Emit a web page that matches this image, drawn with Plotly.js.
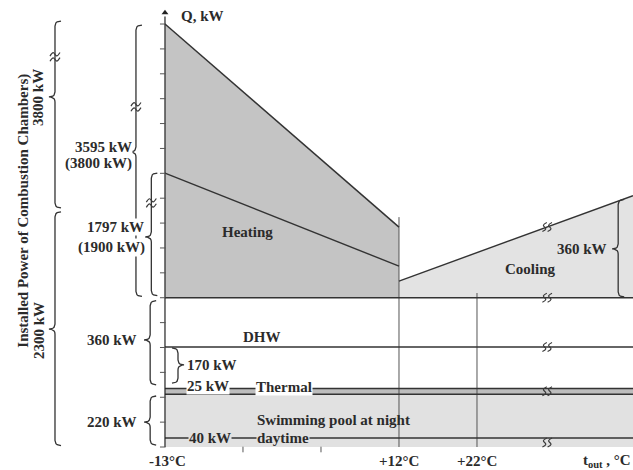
<!DOCTYPE html>
<html><head><meta charset="utf-8">
<script src="https://cdn.plot.ly/plotly-3.0.1.min.js"></script>
<style>html,body{margin:0;padding:0;background:#fff}#chart{width:633px;height:470px}</style>
</head><body><div id="chart"></div>
<script>
// Schematic diagram units: x = outdoor temperature axis (1 unit = 1 x tick), y = schematic load height (1 unit = 1 y tick)
const tempLabels = ['-13°C', '+12°C', '+22°C'];
const tempPos = [0, 3, 4];
const xTickPos = [1, 2];
const yTickPos = [0,1,2,3,4,5,6,7,8,9,10,11,12,13,14,15,16,17];
const heatX = [0, 3];
const heatTopY = [17, 8.84];
const heatLowY = [11.01, 7.27];
const coolX = [3, 6];
const coolY = [6.67, 10.1];
const baseY = 6.0;
const dhwY = 4.02;
const thermalY = [2.12, 2.35];
const daytimeY = 0.36;
const xEnd = 6;
const vLineX = [3, 4];
const vLineTop = [9.24, 6.19];

const braceLabels = ['3800 kW', '2300 kW', '3595 kW', '1797 kW', '360 kW', '220 kW', '170 kW', '360 kW cooling'];
const braceX   = [-1.41, -1.41, -0.372, -0.175, -0.19, -0.19, 0.167, 5.81];
const braceTop = [17.12, 9.45, 16.96, 11.01, 5.88, 2.05, 3.98, 9.95];
const braceBot = [9.61, 0.06, 6.05, 6.08, 2.50, 0.08, 2.57, 6.03];
const braceTip = [14.07, 4.74, 11.86, 8.44, 4.30, 1.0, 3.3, 7.96];
const braceDir = [-1, -1, -1, -1, -1, -1, 1, -1];

const breakX = [4.9, 4.9, 4.9, 4.9, 4.9, -1.41, -0.372, -0.175];
const breakY = [8.84, 6.0, 4.02, 2.24, 0.18, 15.68, 13.67, 9.81];
const breakVertical = [false, false, false, false, false, true, true, true];

const LINE = '#333333';
const TXT = '#2b2b2b';
const FONT = 'Liberation Serif, Times New Roman, serif';
const PX_X = 1 / 78, PX_Y = 1 / 24.88;   // one pixel in data units
const HW = 6 * PX_X;      // brace hook width
const R = 5 * PX_Y;       // brace curve radius

function quad(p0, c, p1, n, xs, ys) {
  for (let i = 1; i <= n; i++) {
    const t = i / n;
    xs.push((1-t)*(1-t)*p0[0] + 2*(1-t)*t*c[0] + t*t*p1[0]);
    ys.push((1-t)*(1-t)*p0[1] + 2*(1-t)*t*c[1] + t*t*p1[1]);
  }
}
function braceTrace(i) {
  const x = braceX[i], t = braceTop[i], b = braceBot[i], m = braceTip[i], s = braceDir[i];
  const hook = x - s * HW, tip = x + s * HW;
  const xs = [hook], ys = [t];
  quad([hook, t], [x, t], [x, t - R], 5, xs, ys);
  xs.push(x); ys.push(m + R);
  quad([x, m + R], [x, m], [tip, m], 5, xs, ys);
  quad([tip, m], [x, m], [x, m - R], 5, xs, ys);
  xs.push(x); ys.push(b + R);
  quad([x, b + R], [x, b], [hook, b], 5, xs, ys);
  return {x: xs, y: ys, mode: 'lines', line: {color: LINE, width: 1.3}, hoverinfo: 'skip', name: braceLabels[i]};
}

const traces = [];
// fills
traces.push({x: [heatX[0], heatX[0], heatX[1], heatX[1]], y: [baseY, heatTopY[0], heatTopY[1], baseY],
  fill: 'toself', fillcolor: '#c4c4c4', mode: 'lines', line: {width: 0}, hoverinfo: 'skip'});
traces.push({x: [coolX[0], coolX[0], coolX[1], coolX[1]], y: [baseY, coolY[0], coolY[1], baseY],
  fill: 'toself', fillcolor: '#e3e3e3', mode: 'lines', line: {width: 0}, hoverinfo: 'skip'});
traces.push({x: [0, 0, xEnd, xEnd], y: [0, thermalY[0], thermalY[0], 0],
  fill: 'toself', fillcolor: '#e1e1e1', mode: 'lines', line: {width: 0}, hoverinfo: 'skip'});
traces.push({x: [0, 0, xEnd, xEnd], y: [thermalY[0], thermalY[1], thermalY[1], thermalY[0]],
  fill: 'toself', fillcolor: '#bdbdbd', mode: 'lines', line: {width: 0}, hoverinfo: 'skip'});
// vertical temperature lines
for (let i = 0; i < vLineX.length; i++) {
  traces.push({x: [vLineX[i], vLineX[i]], y: [0, vLineTop[i]], mode: 'lines', line: {color: '#555', width: 1}, hoverinfo: 'skip'});
}
// load lines
function hline(y, w) { traces.push({x: [0, xEnd], y: [y, y], mode: 'lines', line: {color: LINE, width: w}, hoverinfo: 'skip'}); }
hline(baseY, 1.4); hline(dhwY, 1.3); hline(thermalY[0], 1.4); hline(thermalY[1], 1.4); hline(daytimeY, 1.6);
traces.push({x: heatX, y: heatTopY, mode: 'lines', line: {color: LINE, width: 1.5}, hoverinfo: 'skip'});
traces.push({x: heatX, y: heatLowY, mode: 'lines', line: {color: LINE, width: 1.4}, hoverinfo: 'skip'});
traces.push({x: coolX, y: coolY, mode: 'lines', line: {color: LINE, width: 1.4}, hoverinfo: 'skip'});
// y axis with arrow head
traces.push({x: [0, 0], y: [0, 17.3], mode: 'lines', line: {color: '#222', width: 1.2}, hoverinfo: 'skip'});
traces.push({x: [0], y: [17.45], mode: 'markers', marker: {symbol: 'triangle-up', size: 6, color: '#222'}, hoverinfo: 'skip'});
traces.push({x: yTickPos.map(() => -2.2 * PX_X), y: yTickPos, mode: 'markers',
  marker: {symbol: 'line-ew', size: 4, line: {color: '#555', width: 1}}, hoverinfo: 'skip'});
traces.push({x: xTickPos, y: xTickPos.map(() => -2.5 * PX_Y), mode: 'markers',
  marker: {symbol: 'line-ns', size: 4, line: {color: '#555', width: 1}}, hoverinfo: 'skip'});
// braces
for (let i = 0; i < braceX.length; i++) traces.push(braceTrace(i));
// axis break marks: two small S strokes across the line
(function () {
  const bx = [], by = [];
  const strokeH = [[-2.2, -4.5], [1.2, -1.8], [-1.2, 1.8], [2.2, 4.5]];   // across a horizontal line (px)
  const strokeV = [[-5, -1.8], [-1.8, 1.6], [1.8, -1.6], [5, 1.8]];      // across a vertical line (px)
  for (let i = 0; i < breakX.length; i++) {
    const v = breakVertical[i];
    const pts = v ? strokeV : strokeH;
    for (const off of [-2.6, 2.6]) {
      for (const p of pts) {
        const dx = v ? p[0] : p[0] + off, dy = v ? p[1] + off : p[1];
        bx.push(breakX[i] + dx * PX_X); by.push(breakY[i] + dy * PX_Y);
      }
      bx.push(null); by.push(null);
    }
  }
  traces.push({x: bx, y: by, mode: 'lines', line: {color: '#3a3a3a', width: 1.2, shape: 'spline'},
    connectgaps: false, hoverinfo: 'skip'});
})();

const ann = [];
function txt(text, x, y, opt) {
  ann.push(Object.assign({x: x, y: y, xref: 'x', yref: 'y', text: '<b>' + text + '</b>', showarrow: false,
    font: {family: FONT, size: 15, color: TXT}, xanchor: 'center', yanchor: 'middle', borderpad: 0}, opt || {}));
}
txt('Q, kW', 0.19, 17.32, {xanchor: 'left'});
for (let i = 0; i < tempLabels.length; i++) txt(tempLabels[i], tempPos[i] + (i === 0 ? 0.03 : 0), -0.56);
txt('t<sub>out</sub> , °C', 5.34, -0.56, {xanchor: 'left'});
txt('Heating', 1.064, 8.64);
txt('Cooling', 4.68, 7.15);
txt('360 kW', 5.68, braceTip[7], {xanchor: 'right'});
txt('DHW', 1.244, 4.42);
txt('170 kW', 0.27, braceTip[6], {xanchor: 'left'});
txt('25 kW', 0.27, 2.47, {xanchor: 'left', bgcolor: '#ffffff'});
txt('Thermal', 1.154, 2.41, {xanchor: 'left', bgcolor: '#ffffff'});
txt('Swimming pool at night', 1.167, 1.085, {xanchor: 'left'});
txt('40 kW', 0.295, daytimeY, {xanchor: 'left', bgcolor: '#e1e1e1'});
txt('daytime', 1.167, daytimeY, {xanchor: 'left', bgcolor: '#e1e1e1'});
txt('3595 kW', -0.405, 12.06, {xanchor: 'right', bgcolor: '#ffffff'});
txt('(3800 kW)', -0.405, 11.41, {xanchor: 'right', bgcolor: '#ffffff'});
txt('1797 kW', -0.255, 8.83, {xanchor: 'right', bgcolor: '#ffffff'});
txt('(1900 kW)', -0.24, 8.0, {xanchor: 'right', bgcolor: '#ffffff'});
txt('360 kW', -0.346, braceTip[4], {xanchor: 'right'});
txt('220 kW', -0.346, braceTip[5], {xanchor: 'right'});
txt('3800 kW', -1.628, braceTip[0], {textangle: -90});
txt('2300 kW', -1.615, 4.66, {textangle: -90});
txt('Installed Power of Combustion Chambers)', -1.81, 9.49, {textangle: -90});

const layout = {
  width: 633, height: 470, margin: {l: 0, r: 0, t: 0, b: 0},
  paper_bgcolor: '#ffffff', plot_bgcolor: '#ffffff', showlegend: false,
  xaxis: {range: [-2.115, 6], visible: false, fixedrange: true},
  yaxis: {range: [-0.924, 17.966], visible: false, fixedrange: true},
  annotations: ann
};
Plotly.newPlot('chart', traces, layout, {staticPlot: true, displayModeBar: false});
</script></body></html>
